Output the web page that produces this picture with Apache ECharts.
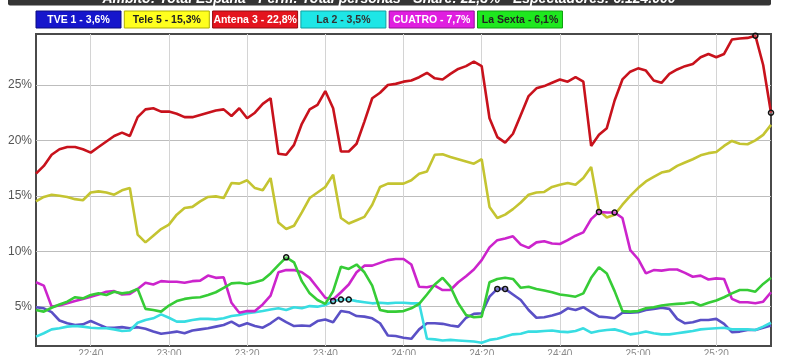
<!DOCTYPE html>
<html>
<head>
<meta charset="utf-8">
<script src="https://cdn.jsdelivr.net/npm/echarts@6/dist/echarts.min.js"></script>
<style>
  html, body { margin: 0; padding: 0; background: #ffffff; }
  #chart { width: 800px; height: 355px; }
</style>
</head>
<body>
<div id="chart"></div>
<script>
// ---- Data (share %, one value every 2 minutes from 22:26 to 25:34) ----
const startMinute = 26;      // minutes after 22:00
const stepMinutes = 2;
const pointCount = 95;

const titleText = 'Ámbito: Total España - Perm: Total personas - Share: 22,8% - Espectadores: 6.124.000';

const seriesNames = ['TVE 1', 'Tele 5', 'Antena 3', 'La 2', 'CUATRO', 'La Sexta'];
const legendLabels = ['TVE 1 - 3,6%', 'Tele 5 - 15,3%', 'Antena 3 - 22,8%', 'La 2 - 3,5%', 'CUATRO - 7,7%', 'La Sexta - 6,1%'];
const yTickValues = [5, 10, 15, 20, 25];

const tve1 = [4.95,4.85,4.5,3.75,3.5,3.35,3.4,3.7,3.4,3.1, 3.1,3.15,3.05,3.15,3.0,2.75,2.55,2.65,2.75,2.6,
  2.85,2.95,3.05,3.2,3.35,3.65,3.25,3.5,3.25,3.1, 3.5,4.0,3.6,3.25,3.3,3.25,3.7,3.85,3.6,4.6,
  4.5,4.15,4.1,3.95,3.5,2.4,2.35,2.2,2.1,2.95, 3.5,3.5,3.45,3.3,3.2,4.0,4.35,4.4,5.9,6.6,
  6.6,6.1,5.6,4.7,4.0,4.05,4.2,4.4,4.85,4.7, 4.95,4.5,4.1,4.05,3.95,4.45,4.45,4.5,4.7,4.8,
  4.9,4.8,3.9,3.5,3.6,3.8,3.8,3.9,3.45,2.7, 2.75,2.9,2.9,3.1,3.3];

const tele5 = [14.5,14.9,15.1,15.0,14.9,14.7,14.6,15.3,15.4,15.3, 15.1,15.5,15.7,11.5,10.8,11.4,12.0,12.4,13.3,13.9,
  14.0,14.5,14.9,14.95,14.8,16.15,16.1,16.4,15.7,15.5, 16.6,12.6,12.0,12.3,13.5,14.8,15.3,15.8,16.9,13.0,
  12.5,12.8,13.1,14.2,15.8,16.1,16.1,16.1,16.4,17.0, 17.2,18.7,18.75,18.5,18.3,18.1,17.9,18.3,14.0,13.0,
  13.3,13.8,14.4,15.1,15.3,15.35,15.8,16.0,16.15,16.0, 16.6,17.6,13.7,13.05,13.3,14.2,15.0,15.7,16.3,16.7,
  17.1,17.25,17.7,18.0,18.3,18.65,18.85,18.95,19.5,19.95, 19.7,19.65,20.0,20.5,21.4];

const antena3 = [17.0,17.7,18.7,19.2,19.4,19.4,19.2,18.9,19.4,19.9, 20.4,20.7,20.4,22.1,22.8,22.9,22.6,22.6,22.4,22.1,
  22.1,22.3,22.5,22.7,22.8,22.2,22.9,22.0,22.5,23.3, 23.8,18.8,18.7,19.6,21.5,22.8,23.2,24.45,22.9,19.0,
  19.0,19.7,21.7,23.8,24.3,25.0,25.1,25.3,25.4,25.7, 26.1,25.6,25.5,26.0,26.45,26.7,27.1,26.7,22.0,20.3,
  19.8,20.6,22.3,24.0,24.7,24.9,25.2,25.5,25.3,25.7, 25.3,19.5,20.5,21.1,23.6,25.5,26.2,26.5,26.3,25.4,
  25.2,26.0,26.4,26.7,26.9,27.5,27.8,27.5,27.8,29.1, 29.2,29.25,29.45,26.8,22.5];

const la2 = [2.3,2.6,2.95,3.05,3.2,3.25,3.2,3.1,3.05,3.05, 2.95,2.8,2.85,3.55,3.8,3.95,4.3,4.0,3.65,3.65,
  3.8,3.9,3.9,3.85,3.95,4.15,4.25,4.4,4.5,4.6, 4.75,4.85,4.7,4.95,4.85,5.05,5.0,5.15,5.5,5.65,
  5.65,5.5,5.4,5.3,5.35,5.3,5.35,5.35,5.3,5.3, 2.1,2.05,1.95,2.0,1.95,1.9,1.85,1.75,2.0,2.1,
  2.3,2.5,2.55,2.75,2.75,2.8,2.85,2.75,2.7,2.8, 3.05,2.65,2.8,2.9,2.95,2.75,2.5,2.6,2.75,2.6,
  2.5,2.5,2.6,2.7,2.8,2.95,3.0,3.05,3.1,2.95, 2.95,2.95,2.9,3.2,3.55];

const cuatro = [7.2,6.9,5.0,5.1,5.3,5.5,5.7,5.9,6.1,6.35, 6.4,6.1,6.15,6.6,7.15,7.0,7.3,7.25,7.25,7.15,
  7.3,7.35,7.8,7.6,7.65,5.35,4.45,4.6,4.6,5.2, 6.0,8.1,8.3,8.3,8.1,7.6,6.7,5.8,5.65,6.3,
  7.0,8.1,8.7,8.7,8.95,9.2,9.3,9.3,8.8,6.8, 6.75,6.9,6.5,6.5,7.2,7.75,8.35,9.2,10.35,11.0,
  11.15,11.35,10.6,10.3,10.8,10.9,10.7,10.65,11.0,11.4, 11.7,12.9,13.55,13.5,13.5,13.0,10.1,9.3,8.0,8.3,
  8.25,8.35,8.35,8.05,7.7,7.8,7.45,7.55,7.5,5.7, 5.4,5.4,5.3,5.45,6.3];

const laSexta = [4.7,4.55,4.9,5.2,5.45,5.85,5.75,6.05,6.2,6.05, 6.35,6.2,6.3,6.6,4.8,4.7,4.55,5.1,5.5,5.7,
  5.8,5.85,6.05,6.3,6.7,7.1,7.15,7.05,7.2,7.4, 8.0,8.75,9.45,9.0,7.3,6.2,5.6,5.25,6.4,8.6,
  8.4,8.8,8.1,6.9,4.7,4.55,4.55,4.6,4.85,5.25, 6.1,7.0,7.6,6.8,5.3,4.25,4.05,4.1,7.2,7.5,
  7.6,7.5,6.7,6.8,6.6,6.45,6.3,6.1,6.0,5.9, 6.2,7.6,8.55,8.0,6.4,4.6,4.55,4.6,4.85,4.95,
  5.1,5.2,5.25,5.3,5.4,5.1,5.35,5.55,5.85,6.2, 6.5,6.5,6.35,7.05,7.6];

// indices of points drawn with a small black circle
const tve1Marks = [59, 60];
const tele5Marks = [];
const antena3Marks = [92, 94];
const la2Marks = [38, 39, 40];
const cuatroMarks = [72, 74];
const laSextaMarks = [32];

// ---- Styles ----
const lineColors = ['#5a50c6', '#c4c431', '#c8121c', '#38dde2', '#cc24cc', '#36cc36'];
const legendFill = ['#1616cc', '#ffff1e', '#e4141e', '#1ee6e6', '#e01ee0', '#1ee81e'];
const legendBorder = ['#0a0a80', '#b0b000', '#900a10', '#10a0a0', '#901090', '#10a010'];
const legendText = ['#ffffff', '#222222', '#ffffff', '#333333', '#ffffff', '#222222'];

// ---- Build ----
const categories = [];
for (let i = 0; i < pointCount; i++) {
  const m = startMinute + i * stepMinutes;
  const h = 22 + Math.floor(m / 60);
  const mm = m % 60;
  categories.push(h + ':' + (mm < 10 ? '0' : '') + mm);
}
const isMajor = (idx, val) => /:(00|20|40)$/.test(val);

const values = [tve1, tele5, antena3, la2, cuatro, laSexta];
const marks = [tve1Marks, tele5Marks, antena3Marks, la2Marks, cuatroMarks, laSextaMarks];

const series = values.map((arr, s) => ({
  name: seriesNames[s],
  type: 'line',
  symbol: 'none',
  showSymbol: true,
  showAllSymbol: true,
  animation: false,
  lineStyle: { color: lineColors[s], width: 2.6 },
  itemStyle: { color: lineColors[s] },
  emphasis: { disabled: true },
  data: arr.map((v, i) => marks[s].indexOf(i) >= 0
    ? { value: v, symbol: 'circle', symbolSize: 5,
        itemStyle: { color: 'rgba(255,255,255,0.2)', borderColor: '#111', borderWidth: 1.5 } }
    : v)
}));

const graphics = [
  { type: 'rect', left: 8, top: 0, shape: { width: 763, height: 5.5, r: [0, 0, 2, 2] },
    style: { fill: '#353535' }, z: 10 },
  { type: 'text', x: 389, y: 6.5, z: 11,
    style: { text: titleText, fill: '#ffffff', font: 'italic bold 14px "Liberation Sans", Arial, sans-serif',
             align: 'center', verticalAlign: 'bottom' } }
];
legendLabels.forEach((lbl, i) => {
  const x = 36 + i * 88.3;
  graphics.push({ type: 'rect', shape: { x: x, y: 11, width: 85, height: 17 },
    style: { fill: legendFill[i], stroke: legendBorder[i], lineWidth: 1 }, z: 10 });
  graphics.push({ type: 'text', x: x + 42.5, y: 19.8, z: 11,
    style: { text: lbl, fill: legendText[i], font: 'bold 10.5px "Liberation Sans", Arial, sans-serif',
             align: 'center', verticalAlign: 'middle' } });
});

const chart = echarts.init(document.getElementById('chart'), null, { renderer: 'canvas' });
chart.setOption({
  animation: false,
  backgroundColor: '#ffffff',
  graphic: graphics,
  grid: { left: 36, right: 29, top: 34, bottom: 9, containLabel: false, outerBoundsMode: 'none',
          show: true, borderColor: '#4a4a4a', borderWidth: 2, backgroundColor: 'transparent' },
  xAxis: {
    type: 'category',
    data: categories,
    boundaryGap: false,
    axisLine: { show: false },
    axisTick: { show: false },
    axisLabel: { interval: isMajor, color: '#8a8a8a', fontSize: 10, margin: 3,
                 fontFamily: '"Liberation Sans", Arial, sans-serif' },
    splitLine: { show: true, interval: isMajor, lineStyle: { color: '#d4d4d4', width: 1 } }
  },
  yAxis: {
    type: 'value',
    min: 1.45,
    max: 29.6,
    axisLine: { show: false },
    axisTick: { show: false, customValues: yTickValues },
    axisLabel: { customValues: yTickValues, formatter: '{value}%', color: '#555555', fontSize: 12, margin: 4,
                 fontFamily: '"Liberation Sans", Arial, sans-serif' },
    splitLine: { show: true, lineStyle: { color: '#bdbdbd', width: 1.2 } }
  },
  series: series
});
</script>
</body>
</html>
